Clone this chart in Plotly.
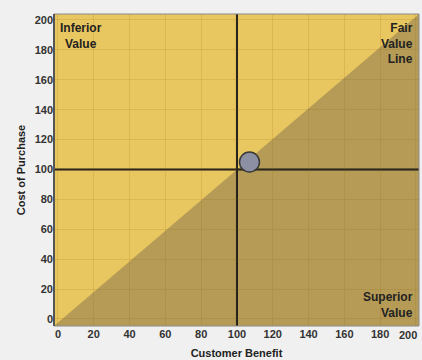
import plotly.graph_objects as go

# Data
benefit = [107]
cost = [105]
x_ticks = [0, 20, 40, 60, 80, 100, 120, 140, 160, 180, 200]
y_ticks = [0, 20, 40, 60, 80, 100, 120, 140, 160, 180, 200]
x_labels = ["0", "20", "40", "60", "80", "100", "120", "140", "160", "180", "200"]
y_labels = ["0", "20", "40", "60", "80", "100", "120", "140", "160", "180", "200"]
ref_benefit = 100
ref_cost = 100
x_range = [-2.2, 201.7]
y_range = [-4.7, 204]

LIGHT = "#e9c760"
DARK = "#b59b55"
GRID = "rgba(140,100,20,0.16)"
FONT = "Liberation Sans"
TICKFONT = dict(family=FONT, size=11, color="#333333", weight="bold")

fig = go.Figure()
fig.add_trace(go.Scatter(
    x=benefit, y=cost, mode="markers",
    marker=dict(size=20, color="#8c90a2", line=dict(color="#3a3a3a", width=1.5)),
    showlegend=False, hoverinfo="skip"))

shapes = [
    dict(type="path", xref="paper", yref="paper", path="M 0,0 L 1,0 L 1,1 Z",
         fillcolor=DARK, line=dict(width=0), layer="below"),
    dict(type="line", xref="x", yref="paper", x0=ref_benefit, x1=ref_benefit, y0=0, y1=1,
         line=dict(color="#1a1a1a", width=2), layer="below"),
    dict(type="line", xref="paper", yref="y", x0=0, x1=1, y0=ref_cost, y1=ref_cost,
         line=dict(color="#1a1a1a", width=2), layer="below"),
    dict(type="rect", xref="paper", yref="paper", x0=0, x1=1, y0=0, y1=1,
         line=dict(color="#8a8a8a", width=1), layer="above"),
    dict(type="line", xref="paper", yref="paper", x0=0, x1=0, y0=0, y1=1,
         line=dict(color="#555555", width=2), layer="above"),
]

annos = [
    dict(text="Inferior<br>Value", x=0.012, y=0.985, xanchor="left", yanchor="top", align="center"),
    dict(text="Fair<br>Value<br>Line", x=0.988, y=0.985, xanchor="right", yanchor="top", align="right"),
    dict(text="Superior<br>Value", x=0.988, y=0.012, xanchor="right", yanchor="bottom", align="right"),
]
for a in annos:
    a.update(xref="paper", yref="paper", showarrow=False,
             font=dict(family=FONT, size=12, color="#222222", weight="bold"))

# last x tick label pushed inside the figure edge
annos.append(dict(text=x_labels[-1], x=x_ticks[-1], y=0, xref="x", yref="paper",
                  xanchor="right", yanchor="top", xshift=3, yshift=-1,
                  showarrow=False, font=TICKFONT))
x_text = x_labels[:-1] + [""]

fig.update_layout(
    width=422, height=360,
    margin=dict(l=54, r=3, t=14, b=34, autoexpand=False),
    paper_bgcolor="#f0f0f0", plot_bgcolor=LIGHT,
    shapes=shapes, annotations=annos,
    font=dict(family=FONT),
    xaxis=dict(range=x_range, tickvals=x_ticks, ticktext=x_text, automargin=False,
               showgrid=True, gridcolor=GRID, gridwidth=1, zeroline=False,
               showline=False, ticks="", ticklen=0,
               tickfont=TICKFONT,
               title=dict(text="Customer Benefit", standoff=10,
                          font=dict(family=FONT, size=11, color="#222222", weight="bold"))),
    yaxis=dict(range=y_range, tickvals=y_ticks, ticktext=y_labels, automargin=False,
               showgrid=True, gridcolor=GRID, gridwidth=1, zeroline=False,
               showline=False, ticks="", ticklabeloverflow="allow",
               tickfont=TICKFONT,
               title=dict(text="Cost of Purchase", standoff=6,
                          font=dict(family=FONT, size=11, color="#222222", weight="bold"))),
)

fig.write_html("out.html", config={"displayModeBar": False},
               post_script="document.body.style.margin='0';document.body.style.overflow='hidden';")
